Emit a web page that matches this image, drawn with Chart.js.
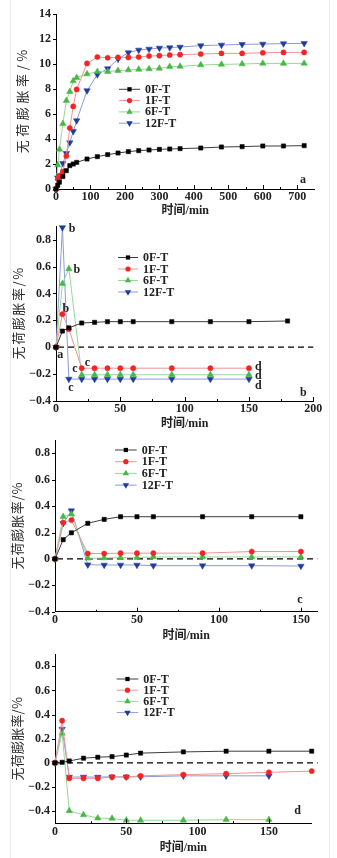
<!DOCTYPE html>
<html lang="zh">
<head>
<meta charset="utf-8">
<title>无荷膨胀率</title>
<script src="https://cdn.jsdelivr.net/npm/chart.js@4.4.1/dist/chart.umd.min.js"></script>
<style>
  html, body { margin: 0; background: #fff; }
  body { position: relative; width: 337px; height: 858px; overflow: hidden; }
  canvas { position: absolute; left: 0; }
  .edge { position: absolute; top: 0; width: 1px; height: 858px; background: #ededed; }
</style>
</head>
<body>
<div class="edge" style="left:10px"></div>
<div class="edge" style="left:329px"></div>
<canvas id="chartA" width="337" height="220" style="top:0px"></canvas>
<canvas id="chartB" width="337" height="218" style="top:214px"></canvas>
<canvas id="chartC" width="337" height="218" style="top:428px"></canvas>
<canvas id="chartD" width="337" height="216" style="top:642px"></canvas>
<script>
// series names shared by all four panels
const seriesNames = ['0F-T', '1F-T', '6F-T', '12F-T'];

// panel a: long soak, 0-720 min
const timeA = [0, 5, 10, 20, 30, 40, 50, 60, 90, 120, 150, 180, 210, 240, 270, 300, 330, 360, 420, 480, 540, 600, 660, 720];
const a0F = [0, 0.3, 0.55, 1.0, 1.47, 1.87, 2.0, 2.13, 2.4, 2.59, 2.75, 2.88, 2.99, 3.07, 3.12, 3.17, 3.2, 3.23, 3.28, 3.36, 3.39, 3.44, 3.44, 3.47];
const a1F = [0, 0.8, 1.05, 1.39, 2.64, 4.88, 6.61, 7.97, 10.05, 10.56, 10.5, 10.53, 10.53, 10.56, 10.64, 10.67, 10.72, 10.75, 10.8, 10.85, 10.85, 10.9, 10.93, 10.93];
const a6F = [0, 1.92, 3.17, 5.23, 7.07, 7.79, 8.64, 8.91, 9.2, 9.39, 9.39, 9.47, 9.52, 9.57, 9.6, 9.65, 9.79, 9.81, 9.92, 9.97, 10.0, 10.05, 10.05, 10.05];
const a12F = [0, 0.9, 1.07, 2.05, 2.85, 3.71, 4.61, 5.47, 7.87, 9.15, 9.63, 10.4, 10.91, 11.12, 11.2, 11.28, 11.31, 11.36, 11.47, 11.52, 11.57, 11.6, 11.63, 11.65];
const xTicksA = [0, 100, 200, 300, 400, 500, 600, 700];
const yTicksA = [0, 2, 4, 6, 8, 10, 12, 14];
const yLabelsA = ['0', '2', '4', '6', '8', '10', '12', '14'];

// panel b
const timeB = [0, 5, 10, 20, 30, 40, 50, 60, 90, 120, 150];
const timeB0 = [0, 5, 10, 20, 30, 40, 50, 60, 90, 120, 150, 180];
const b0F = [0, 0.12, 0.144, 0.18, 0.185, 0.19, 0.19, 0.19, 0.19, 0.19, 0.19, 0.195];
const b1F = [0, 0.246, 0.134, -0.156, -0.156, -0.156, -0.156, -0.156, -0.156, -0.156, -0.156];
const b6F = [0, 0.473, 0.583, -0.205, -0.205, -0.205, -0.205, -0.205, -0.205, -0.205, -0.205];
const b12F = [0, 0.89, -0.237, -0.237, -0.237, -0.237, -0.237, -0.237, -0.237, -0.237, -0.237];
const xTicksB = [0, 50, 100, 150, 200];

// panel c
const timeC = [0, 5, 10, 20, 30, 40, 50, 60, 90, 120, 150];
const c0F = [0, 0.146, 0.198, 0.27, 0.3, 0.32, 0.32, 0.32, 0.32, 0.32, 0.32];
const c1F = [0, 0.276, 0.295, 0.041, 0.041, 0.044, 0.044, 0.044, 0.044, 0.056, 0.056];
const c6F = [0, 0.32, 0.34, 0.005, 0.007, 0.01, 0.01, 0.015, 0.015, 0.015, 0.015];
const c12F = [0, 0.27, 0.366, -0.044, -0.046, -0.046, -0.046, -0.051, -0.051, -0.051, -0.054];
const xTicksC = [0, 50, 100, 150];

// panel d
const timeD = [0, 5, 10, 20, 30, 40, 50, 60, 90, 120, 150, 180];
const timeD6 = [0, 5, 10, 20, 30, 40, 50, 60, 90, 120, 150];
const d0F = [0, 0.005, 0.016, 0.039, 0.047, 0.052, 0.065, 0.081, 0.091, 0.097, 0.097, 0.097];
const d1F = [0, 0.35, -0.128, -0.128, -0.128, -0.117, -0.117, -0.107, -0.097, -0.089, -0.078, -0.068];
const d6F = [0, 0.245, -0.397, -0.43, -0.457, -0.46, -0.475, -0.475, -0.475, -0.47, -0.47];
const d12F = [0, 0.28, -0.117, -0.117, -0.117, -0.115, -0.115, -0.115, -0.107, -0.107, -0.107];
const xTicksD = [0, 50, 100, 150];

// shared y ticks for b, c, d
const yTicksS = [-0.4, -0.2, 0, 0.2, 0.4, 0.6, 0.8];
const yLabelsS = ['\u22120.4', '\u22120.2', '0', '0.2', '0.4', '0.6', '0.8'];

const yTitle = '无荷膨胀率/%';
const serif = '"Liberation Serif", "Times New Roman", "Noto Sans CJK SC", serif';
const seriesStyle = [
  { marker: '#000000', line: '#3c3c3c', pointStyle: 'rect', radius: 3, rotation: 0 },
  { marker: '#f42424', line: '#f29292', pointStyle: 'circle', radius: 2.6, rotation: 0 },
  { marker: '#46b846', line: '#96d896', pointStyle: 'triangle', radius: 3.7, rotation: 0 },
  { marker: '#1e3c9e', line: '#8d9bd6', pointStyle: 'triangle', radius: 3.7, rotation: 180 },
];

function makeDatasets(times, values) {
  return values.map((vals, i) => {
    const st = seriesStyle[i];
    return {
      label: seriesNames[i],
      data: vals.map((v, k) => ({ x: times[i][k], y: v })),
      borderColor: st.line,
      borderWidth: 1,
      pointStyle: st.pointStyle,
      pointRadius: st.radius,
      pointRotation: st.rotation,
      pointBackgroundColor: st.marker,
      pointBorderColor: st.marker,
      pointBorderWidth: 0.5,
      tension: 0,
      fill: false,
      clip: false,
    };
  });
}

function drawMarker(ctx, st, cx, cy) {
  ctx.fillStyle = st.marker;
  ctx.beginPath();
  const r = st.radius;
  if (st.pointStyle === 'rect') {
    const s = r * Math.SQRT2;
    ctx.rect(cx - s / 2, cy - s / 2, s, s);
  } else if (st.pointStyle === 'circle') {
    ctx.arc(cx, cy, r, 0, Math.PI * 2);
  } else {
    const d = st.rotation ? 1 : -1;
    const h = r * Math.sin(Math.PI / 3);
    ctx.moveTo(cx, cy + d * r);
    ctx.lineTo(cx + h, cy - d * r / 2);
    ctx.lineTo(cx - h, cy - d * r / 2);
    ctx.closePath();
  }
  ctx.fill();
}

// rotated axis title, drawn glyph by glyph so it can be spaced out
function drawSpacedVertical(ctx, text, cx, cy, gap) {
  const chars = Array.from(text);
  const widths = chars.map(ch => ctx.measureText(ch).width);
  const total = widths.reduce((s, w) => s + w, 0) + gap * (chars.length - 1);
  ctx.save();
  ctx.translate(cx, cy);
  ctx.rotate(-Math.PI / 2);
  ctx.textAlign = 'left';
  ctx.textBaseline = 'middle';
  let pos = -total / 2;
  chars.forEach((ch, i) => {
    ctx.fillText(ch, pos, 0);
    pos += widths[i] + gap;
  });
  ctx.restore();
}

// ticks, zero line, legend, point notes and panel letter
const panelDeco = {
  id: 'panelDeco',
  beforeDatasetsDraw(chart, args, o) {
    if (!o.zeroLine) return;
    const { ctx, chartArea: ca, scales: { y } } = chart;
    const py = y.getPixelForValue(0);
    ctx.save();
    ctx.strokeStyle = '#000';
    ctx.lineWidth = 1.3;
    ctx.setLineDash([6, 4]);
    ctx.beginPath();
    ctx.moveTo(ca.left + 2, py);
    ctx.lineTo(ca.right + o.zeroExtra, py);
    ctx.stroke();
    ctx.restore();
  },
  afterDraw(chart, args, o) {
    const { ctx, chartArea: ca, scales: { x, y } } = chart;
    ctx.save();
    ctx.strokeStyle = '#000';
    ctx.lineWidth = 1;
    ctx.beginPath();
    o.xMajor.forEach(v => {
      const px = Math.round(x.getPixelForValue(v)) + 0.5;
      ctx.moveTo(px, ca.bottom); ctx.lineTo(px, ca.bottom - 4);
    });
    o.xMajor.slice(0, -1).forEach((v, i) => {
      const m = (v + o.xMajor[i + 1]) / 2;
      const px = Math.round(x.getPixelForValue(m)) + 0.5;
      ctx.moveTo(px, ca.bottom); ctx.lineTo(px, ca.bottom - 2);
    });
    o.yMajor.forEach(v => {
      const py = Math.round(y.getPixelForValue(v)) + 0.5;
      ctx.moveTo(ca.left, py); ctx.lineTo(ca.left - 3, py);
    });
    ctx.stroke();

    // y axis title
    ctx.font = '13px "Noto Sans CJK SC", sans-serif';
    ctx.fillStyle = '#2a2a2a';
    drawSpacedVertical(ctx, yTitle, o.yTitleX, (ca.top + ca.bottom) / 2, o.yTitleGap);

    // legend
    const lg = o.legend;
    ctx.font = 'bold 12px ' + serif;
    ctx.textAlign = 'left';
    ctx.textBaseline = 'middle';
    chart.data.datasets.forEach((ds, i) => {
      const st = seriesStyle[i];
      const ly = lg.y + i * lg.dy;
      ctx.strokeStyle = st.line;
      ctx.beginPath();
      ctx.moveTo(lg.x, ly); ctx.lineTo(lg.x + lg.w, ly);
      ctx.stroke();
      drawMarker(ctx, st, lg.x + lg.w / 2, ly);
      ctx.fillStyle = '#222';
      ctx.fillText(ds.label, lg.x + lg.w + 5, ly + 0.5);
    });

    // letters next to points
    ctx.font = 'bold 12px ' + serif;
    ctx.textAlign = 'center';
    ctx.fillStyle = '#222';
    (o.notes || []).forEach(n => {
      const pt = chart.getDatasetMeta(n.ds).data[n.i];
      ctx.fillText(n.text, pt.x + n.dx, pt.y + n.dy);
    });

    // panel letter
    ctx.fillText(o.letter, ca.right + o.letterDx, ca.bottom + o.letterDy);
    ctx.restore();
  }
};

function makePanel(id, p) {
  return new Chart(document.getElementById(id), {
    type: 'line',
    data: { datasets: p.datasets },
    plugins: [panelDeco],
    options: {
      responsive: false,
      animation: false,
      events: [],
      layout: { padding: { left: 0, top: p.plotTop, right: p.padRight, bottom: 0 } },
      scales: {
        x: {
          type: 'linear',
          min: p.xMin, max: p.xMax,
          afterFit: s => { s.height = p.xHeight; },
          afterBuildTicks: s => { s.ticks = p.xTicks.map(v => ({ value: v })); },
          grid: { display: false, drawTicks: false, tickLength: 0 },
          border: { display: true, color: '#000', width: 1 },
          ticks: {
            padding: 1, color: '#222', maxRotation: 0, autoSkip: false,
            font: { family: serif, size: 12, weight: 'bold' },
            callback: (v, i) => String(p.xTicks[i])
          },
          title: {
            display: true, text: '时间/min', color: '#222',
            font: { family: serif, size: 12, weight: 'bold', lineHeight: 1.2 },
            padding: { top: 0, bottom: p.xTitlePad }
          }
        },
        y: {
          min: p.yMin, max: p.yMax,
          afterFit: s => { s.width = p.plotLeft; },
          afterBuildTicks: s => { s.ticks = p.yTicks.map(v => ({ value: v })); },
          grid: { display: false, drawTicks: false, tickLength: 0 },
          border: { display: true, color: '#000', width: 1 },
          ticks: {
            padding: 5, color: '#222', autoSkip: false,
            font: { family: serif, size: 12, weight: 'bold' },
            callback: (v, i) => p.yLabels[i]
          },
          title: { display: false }
        }
      },
      plugins: {
        legend: { display: false },
        tooltip: { enabled: false },
        panelDeco: {
          xMajor: p.xTicks, yMajor: p.yTicks,
          zeroLine: p.zeroLine, zeroExtra: p.zeroExtra || 0,
          yTitleX: p.yTitleX, yTitleGap: p.yTitleGap,
          legend: p.legend, notes: p.notes,
          letter: p.letter, letterDx: p.letterDx, letterDy: p.letterDy
        }
      }
    }
  });
}

makePanel('chartA', {
  datasets: makeDatasets([timeA, timeA, timeA, timeA], [a0F, a1F, a6F, a12F]),
  xMin: 0, xMax: 750, yMin: 0, yMax: 14,
  xTicks: xTicksA, yTicks: yTicksA, yLabels: yLabelsA,
  plotTop: 14, plotLeft: 56, padRight: 22.5, xHeight: 31,
  xTitlePad: 2.1, yTitleX: 21.7, yTitleGap: 3.6,
  zeroLine: false,
  legend: { x: 119, y: 89.3, dy: 11.3, w: 21 },
  letter: 'a', letterDx: -11.5, letterDy: -9
});

makePanel('chartB', {
  datasets: makeDatasets([timeB0, timeB, timeB, timeB], [b0F, b1F, b6F, b12F]),
  xMin: 0, xMax: 200, yMin: -0.4, yMax: 0.9,
  xTicks: xTicksB, yTicks: yTicksS, yLabels: yLabelsS,
  plotTop: 8.3, plotLeft: 56, padRight: 23.7, xHeight: 31,
  xTitlePad: 1.3, yTitleX: 18.3, yTitleGap: 1.6,
  zeroLine: true,
  legend: { x: 118, y: 257.5 - 214, dy: 11.5, w: 20 },
  notes: [
    { text: 'a', ds: 0, i: 0, dx: 4.3, dy: 8 },
    { text: 'b', ds: 3, i: 1, dx: 9.7, dy: 1.3 },
    { text: 'b', ds: 2, i: 2, dx: 8, dy: 1 },
    { text: 'b', ds: 1, i: 1, dx: 3.3, dy: -5 },
    { text: 'c', ds: 1, i: 3, dx: 5.7, dy: -5 },
    { text: 'c', ds: 2, i: 3, dx: -6.7, dy: -6 },
    { text: 'c', ds: 3, i: 2, dx: 2, dy: 9 },
    { text: 'd', ds: 1, i: 10, dx: 9.3, dy: -1.7 },
    { text: 'd', ds: 2, i: 10, dx: 9.3, dy: 0.7 },
    { text: 'd', ds: 3, i: 10, dx: 9.3, dy: 7.3 }
  ],
  letter: 'b', letterDx: -10, letterDy: -7.7
});

makePanel('chartC', {
  datasets: makeDatasets([timeC, timeC, timeC, timeC], [c0F, c1F, c6F, c12F]),
  xMin: 0, xMax: 160, yMin: -0.4, yMax: 0.9,
  xTicks: xTicksC, yTicks: yTicksS, yLabels: yLabelsS,
  plotTop: 5.3, plotLeft: 55, padRight: 19.7, xHeight: 34.3,
  xTitlePad: 3.1, yTitleX: 16.7, yTitleGap: 0.8,
  zeroLine: true,
  legend: { x: 115, y: 450 - 428, dy: 11.7, w: 21.7 },
  letter: 'c', letterDx: -17.3, letterDy: -11.7
});

makePanel('chartD', {
  datasets: makeDatasets([timeD, timeD, timeD6, timeD6], [d0F, d1F, d6F, d12F]),
  xMin: 0, xMax: 180, yMin: -0.5, yMax: 0.9,
  xTicks: xTicksD, yTicks: yTicksS, yLabels: yLabelsS,
  plotTop: 3.5, plotLeft: 55, padRight: 25.3, xHeight: 34.7,
  xTitlePad: 2.8, yTitleX: 17.3, yTitleGap: 0.2,
  zeroLine: true, zeroExtra: 6,
  legend: { x: 116.7, y: 679 - 642, dy: 11.2, w: 21.6 },
  letter: 'd', letterDx: -14, letterDy: -12.6
});
</script>
</body>
</html>
